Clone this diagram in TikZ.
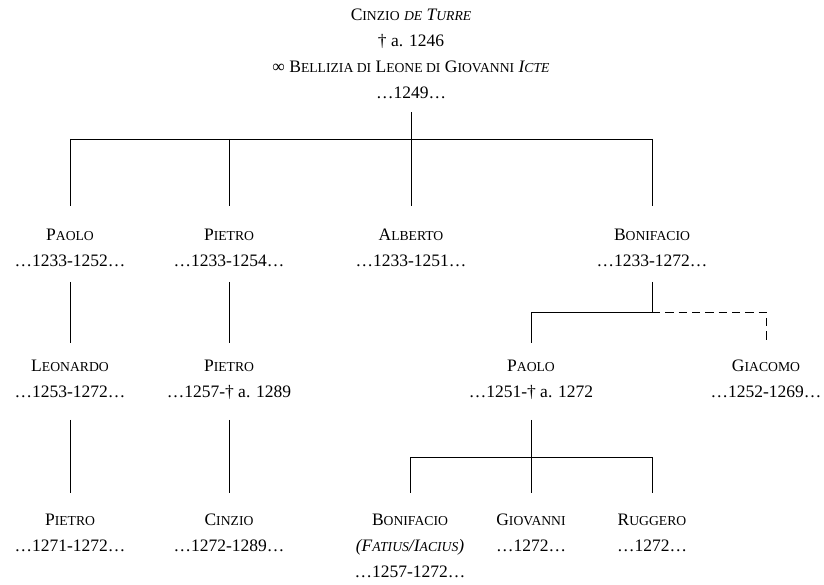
\documentclass[tikz,border=0pt]{standalone}
\usepackage{fontspec}
\setmainfont{Liberation Serif}
% small capitals by hand (the font has none)
\newcommand\ssc[1]{{\fontsize{8.2}{15.6}\selectfont\MakeUppercase{#1}}}
\tikzset{
  person/.style={align=center, anchor=north, inner sep=0pt,
    font=\fontsize{10.5}{15.6}\selectfont, execute at begin node=\strut},
  link/.style={line width=0.5pt},
  maybe/.style={link, dash pattern=on 5pt off 3pt}
}
\begin{document}
\begin{tikzpicture}[x=0.6pt,y=-0.6pt]
\useasboundingbox (0,0) rectangle (824,585);
% Founder
\node[person] (cinzio) at (411,9) {C\ssc{inzio} \textit{\ssc{de} T\ssc{urre}}\\† a. 1246\\∞ B\ssc{ellizia di} L\ssc{eone di} G\ssc{iovanni} \textit{I\ssc{cte}}\\…1249…};
% Sons
\node[person] (paolo) at (70,229) {P\ssc{aolo}\\…1233-1252…};
\node[person] (pietro) at (229,229) {P\ssc{ietro}\\…1233-1254…};
\node[person] (alberto) at (411,229) {A\ssc{lberto}\\…1233-1251…};
\node[person] (bonifacio) at (652,229) {B\ssc{onifacio}\\…1233-1272…};
% Grandsons
\node[person] (leonardo) at (70,360) {L\ssc{eonardo}\\…1253-1272…};
\node[person] (pietrob) at (229,360) {P\ssc{ietro}\\…1257-† a. 1289};
\node[person] (paolob) at (531,360) {P\ssc{aolo}\\…1251-† a. 1272};
\node[person] (giacomo) at (766,360) {G\ssc{iacomo}\\…1252-1269…};
% Great-grandsons
\node[person] (pietroc) at (70,514) {P\ssc{ietro}\\…1271-1272…};
\node[person] (cinziob) at (229,514) {C\ssc{inzio}\\…1272-1289…};
\node[person] (bonifaciob) at (410,514) {B\ssc{onifacio}\\\textit{(F\ssc{atius}/I\ssc{acius})}\\…1257-1272…};
\node[person] (giovanni) at (531,514) {G\ssc{iovanni}\\…1272…};
\node[person] (ruggero) at (652,514) {R\ssc{uggero}\\…1272…};
% Junctions
\coordinate (j1) at (411,139);
\coordinate (j2) at (652,312);
\coordinate (j3) at (531,457);
% First generation
\draw[link, shorten <=3pt] (cinzio.south) -- (j1);
\draw[link] (j1 -| paolo) -- (j1 -| bonifacio);
\foreach \n in {paolo,pietro,alberto,bonifacio}
  \draw[link, shorten >=13.8pt] (j1 -| \n) -- (\n.north);
% Second generation
\draw[link, shorten <=4.2pt, shorten >=10.2pt] (paolo.south) -- (leonardo.north);
\draw[link, shorten <=4.2pt, shorten >=10.2pt] (pietro.south) -- (pietrob.north);
\draw[link, shorten <=4.2pt] (bonifacio.south) -- (j2);
\draw[link, shorten >=10.2pt] (j2) -| (paolob.north);
\draw[maybe, shorten >=10.2pt] (j2) -| (giacomo.north);
% Third generation
\draw[link, shorten <=8.4pt, shorten >=12.6pt] (leonardo.south) -- (pietroc.north);
\draw[link, shorten <=8.4pt, shorten >=12.6pt] (pietrob.south) -- (cinziob.north);
\draw[link, shorten <=8.4pt] (paolob.south) -- (j3);
\draw[link] (j3 -| bonifaciob) -- (j3 -| ruggero);
\foreach \n in {bonifaciob,giovanni,ruggero}
  \draw[link, shorten >=12.6pt] (j3 -| \n) -- (\n.north);
\end{tikzpicture}
\end{document}
